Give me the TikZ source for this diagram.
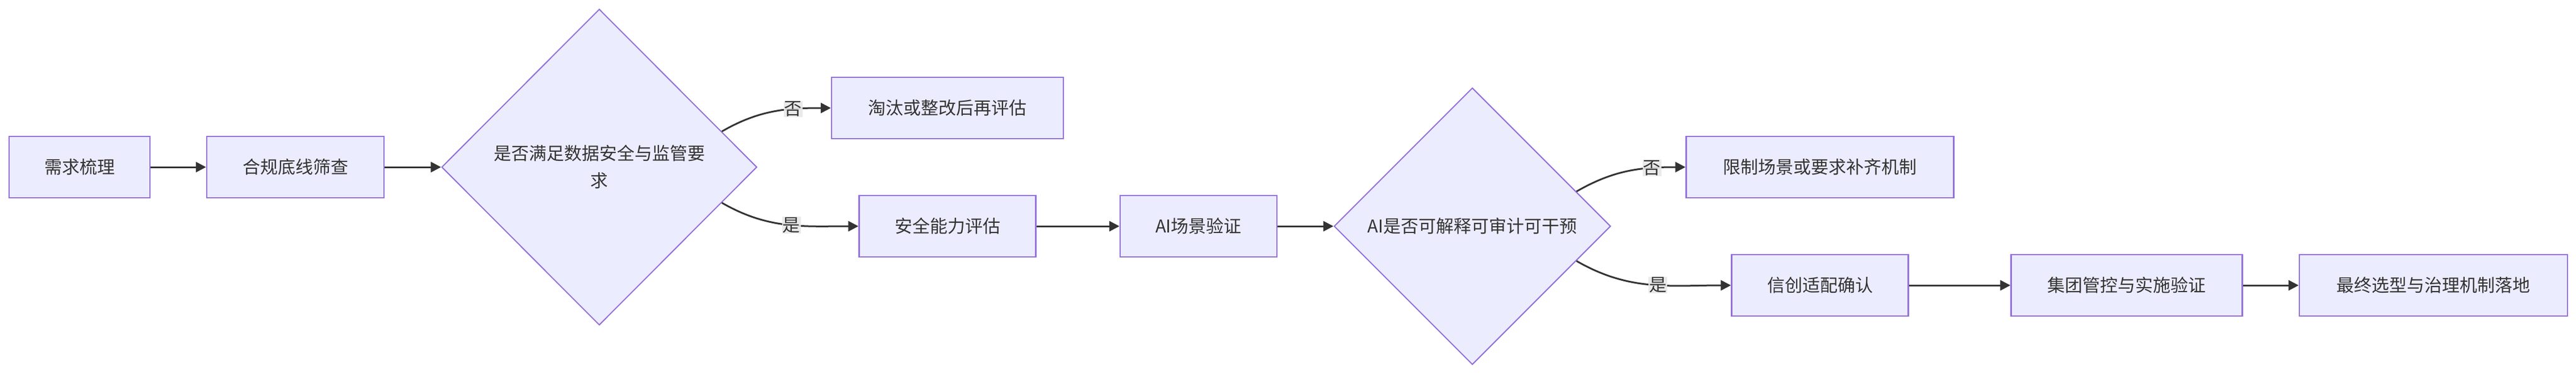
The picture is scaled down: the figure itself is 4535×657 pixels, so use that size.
\documentclass[tikz,border=0pt]{standalone}
\usepackage{fontspec}
\setmainfont{Noto Sans CJK SC}
\usetikzlibrary{shapes.geometric, positioning, calc}
\usetikzlibrary{arrows.meta}
\definecolor{boxfill}{HTML}{ECECFF}
\definecolor{boxline}{HTML}{9370DB}
\definecolor{ink}{HTML}{333333}
\definecolor{lblbg}{HTML}{E8E8E8}

\begin{document}
\begin{tikzpicture}[x=1pt, y=-1pt, font = \fontsize{31pt}{48pt}\selectfont,
    ostep/.style={draw=boxline, fill=boxfill, line width=2.5pt, minimum height=108pt, inner sep=0pt, text=ink},
    odecide/.style={draw=boxline, fill=boxfill, line width=2pt, diamond, inner sep=0pt, text=ink, align=center},
    flow/.style={ink, line width=3pt, -{Triangle[length=18pt, width=18pt]}},
    lbl/.style={fill=lblbg, text=ink, inner sep=1pt, fill opacity=0.9, text opacity=1},
    ]

    \useasboundingbox (0,0) rectangle (4535,657);

    % main row
    \node(need)[ostep, minimum width=248pt] at (140,294){需求梳理};
    \node(base)[ostep, minimum width=312pt] at (520,294){合规底线筛查};
    \node(dsafe)[odecide, minimum width=555pt, minimum height=556pt, text width=390pt] at (1055,294){是否满足数据安全与监管要\\求};
    \node(drop)[ostep, minimum width=408pt] at (1668,190){淘汰或整改后再评估};
    \node(sec)[ostep, minimum width=311pt] at (1668,398){安全能力评估};
    \node(aiscene)[ostep, minimum width=276pt] at (2110,398){AI场景验证};
    \node(dai)[odecide, minimum width=487pt, minimum height=487pt] at (2592,398){AI是否可解释可审计可干预};
    \node(limit)[ostep, minimum width=471pt] at (3204,294){限制场景或要求补齐机制};
    \node(xc)[ostep, minimum width=311pt] at (3204,502){信创适配确认};
    \node(group)[ostep, minimum width=407pt] at (3744,502){集团管控与实施验证};
    \node(final)[ostep, minimum width=472pt] at (4284,502){最终选型与治理机制落地};

    \coordinate (s1) at ($(dsafe.north east)!0.55!(dsafe.east)$);
    \coordinate (s2) at ($(dsafe.south east)!0.55!(dsafe.east)$);
    \coordinate (s3) at ($(dai.north east)!0.5!(dai.east)$);
    \coordinate (s4) at ($(dai.south east)!0.5!(dai.east)$);

    \draw[flow](need) -- (base);
    \draw[flow](base) -- (dsafe);
    \draw[flow](s1) to[out=30, in=180] node[lbl, pos=0.68]{否} (drop.west);
    \draw[flow](s2) to[out=-30, in=180] node[lbl, pos=0.53]{是} (sec.west);
    \draw[flow](sec) -- (aiscene);
    \draw[flow](aiscene) -- (dai);
    \draw[flow](s3) to[out=30, in=180] node[lbl, pos=0.72]{否} (limit.west);
    \draw[flow](s4) to[out=-30, in=180] node[lbl, pos=0.55]{是} (xc.west);
    \draw[flow](xc) -- (group);
    \draw[flow](group) -- (final);

\end{tikzpicture}
\end{document}
